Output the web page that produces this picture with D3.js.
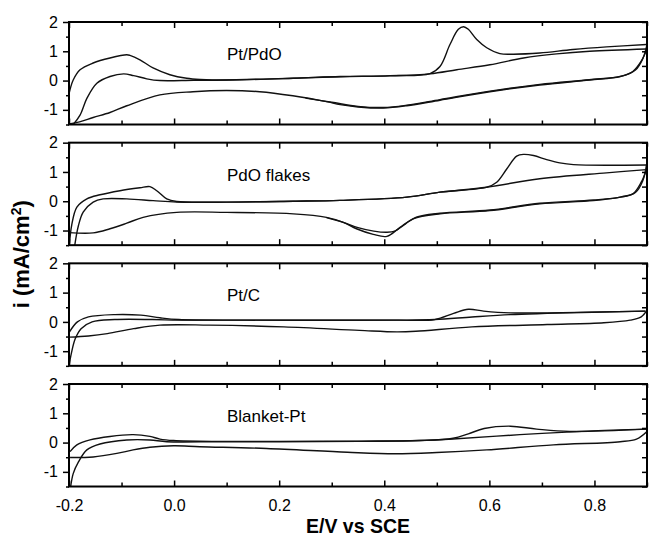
<!DOCTYPE html>
<html>
<head>
<meta charset="utf-8">
<script src="https://cdn.jsdelivr.net/npm/d3@7"></script>
<style>
  body { margin: 0; background: #fff; }
  svg { display: block; font-family: "Liberation Sans", Arial, Helvetica, sans-serif; }
</style>
</head>
<body>
<svg id="chart" width="649" height="536"></svg>
<script>
// E (V vs SCE), i (mA/cm2) pairs
const ptpdoFwd1 = [[-0.2,-0.45],[-0.192,0.02],[-0.179,0.37],[-0.154,0.6],[-0.122,0.77],[-0.09,0.88],[-0.084,0.86],[-0.065,0.71],[-0.04,0.43],[-0.008,0.2],[0.024,0.08],[0.05,0.04],[0.1,0.02],[0.227,0.08],[0.316,0.14],[0.411,0.17],[0.487,0.24],[0.506,0.48],[0.525,1.23],[0.541,1.75],[0.551,1.84],[0.56,1.75],[0.576,1.4],[0.595,1.12],[0.62,0.92],[0.646,0.9],[0.696,0.94],[0.759,1.06],[0.823,1.15],[0.899,1.23]];
const ptpdoFwd2 = [[-0.192,-1.5],[-0.179,-1.18],[-0.166,-0.61],[-0.147,-0.09],[-0.122,0.14],[-0.096,0.23],[-0.077,0.17],[-0.052,0.06],[-0.027,0.0],[0.037,0.01],[0.1,0.02],[0.227,0.08],[0.316,0.13],[0.411,0.16],[0.487,0.23],[0.538,0.37],[0.601,0.54],[0.665,0.77],[0.728,0.91],[0.791,1.0],[0.899,1.08]];
const ptpdoRev1 = [[0.9,1.08],[0.889,0.66],[0.873,0.31],[0.849,0.14],[0.791,0.02],[0.696,-0.15],[0.601,-0.38],[0.506,-0.67],[0.443,-0.86],[0.398,-0.94],[0.35,-0.9],[0.316,-0.82],[0.29,-0.72],[0.226,-0.52],[0.163,-0.38],[0.1,-0.34],[0.036,-0.38],[-0.027,-0.49],[-0.09,-0.86],[-0.122,-1.09],[-0.154,-1.26],[-0.18,-1.41],[-0.2,-1.48]];
const ptpdoRev2 = [[0.9,1.23],[0.892,0.75],[0.878,0.36],[0.852,0.15],[0.79,0.03],[0.696,-0.13],[0.601,-0.36],[0.506,-0.65],[0.443,-0.84],[0.398,-0.92],[0.35,-0.88],[0.3,-0.74],[0.25,-0.6]];

const pdoFwd1 = [[-0.199,-1.45],[-0.195,-0.83],[-0.185,-0.2],[-0.166,0.08],[-0.141,0.22],[-0.103,0.36],[-0.065,0.46],[-0.046,0.5],[-0.033,0.36],[-0.014,0.08],[0.005,-0.01],[0.1,-0.03],[0.227,0.0],[0.316,0.03],[0.443,0.14],[0.506,0.31],[0.595,0.48],[0.614,0.65],[0.633,1.1],[0.652,1.54],[0.665,1.6],[0.684,1.56],[0.709,1.42],[0.734,1.31],[0.76,1.25],[0.899,1.24]];
const pdoFwd2 = [[-0.189,-1.5],[-0.182,-0.83],[-0.173,-0.37],[-0.154,-0.03],[-0.135,0.08],[-0.09,0.08],[-0.04,0.02],[0.005,-0.03],[0.1,-0.03],[0.227,0.0],[0.316,0.03],[0.443,0.14],[0.506,0.31],[0.595,0.48],[0.696,0.77],[0.823,0.97],[0.899,1.08]];
const pdoRev1 = [[0.899,1.08],[0.889,0.65],[0.873,0.25],[0.849,0.14],[0.798,0.02],[0.696,-0.09],[0.601,-0.32],[0.506,-0.43],[0.455,-0.6],[0.43,-0.89],[0.405,-1.2],[0.379,-1.13],[0.347,-0.94],[0.322,-0.72],[0.29,-0.55],[0.227,-0.43],[0.1,-0.38],[0.005,-0.38],[-0.059,-0.55],[-0.09,-0.75],[-0.122,-0.94],[-0.154,-1.08],[-0.2,-1.07]];
const pdoRev2 = [[0.899,1.24],[0.892,0.7],[0.878,0.3],[0.852,0.15],[0.798,0.04],[0.696,-0.07],[0.601,-0.3],[0.506,-0.41],[0.46,-0.55],[0.44,-0.78],[0.42,-1.02],[0.405,-1.06],[0.38,-1.02],[0.35,-0.9],[0.322,-0.72],[0.29,-0.56]];

const ptcFwd1 = [[-0.199,-0.34],[-0.184,0.0],[-0.163,0.17],[-0.113,0.25],[-0.063,0.23],[-0.027,0.14],[0.009,0.08],[0.138,0.06],[0.424,0.06],[0.496,0.08],[0.532,0.29],[0.56,0.43],[0.589,0.37],[0.639,0.31],[0.71,0.31],[0.897,0.37]];
const ptcFwd2 = [[-0.2,-1.5],[-0.195,-1.03],[-0.188,-0.57],[-0.177,-0.23],[-0.156,0.0],[-0.113,0.08],[-0.041,0.08],[0.009,0.06],[0.138,0.06],[0.424,0.06],[0.496,0.08],[0.567,0.17],[0.639,0.25],[0.71,0.29],[0.897,0.37]];
const ptcRev = [[0.9,0.4],[0.889,0.17],[0.868,0.06],[0.818,-0.03],[0.71,-0.09],[0.567,-0.17],[0.46,-0.32],[0.424,-0.34],[0.353,-0.29],[0.209,-0.17],[0.066,-0.11],[-0.027,-0.11],[-0.077,-0.23],[-0.127,-0.4],[-0.163,-0.48],[-0.2,-0.52]];

const blanketFwd1 = [[-0.198,-0.31],[-0.185,-0.08],[-0.16,0.09],[-0.122,0.21],[-0.078,0.27],[-0.046,0.21],[-0.027,0.12],[-0.001,0.07],[0.087,0.04],[0.2,0.04],[0.35,0.05],[0.468,0.07],[0.531,0.15],[0.56,0.3],[0.59,0.48],[0.64,0.56],[0.69,0.46],[0.753,0.38],[0.9,0.46]];
const blanketFwd2 = [[-0.197,-1.53],[-0.192,-1.06],[-0.182,-0.66],[-0.166,-0.25],[-0.141,-0.05],[-0.09,0.09],[-0.046,0.09],[-0.014,0.03],[0.087,0.03],[0.2,0.03],[0.35,0.04],[0.468,0.07],[0.531,0.12],[0.658,0.27],[0.785,0.39],[0.9,0.46]];
const blanketRev = [[0.9,0.38],[0.88,0.12],[0.849,0.03],[0.722,-0.08],[0.595,-0.25],[0.5,-0.34],[0.42,-0.38],[0.33,-0.33],[0.176,-0.2],[0.049,-0.14],[-0.001,-0.11],[-0.046,-0.16],[-0.078,-0.25],[-0.109,-0.37],[-0.154,-0.49],[-0.198,-0.51]];

const panelNames = ["Pt/PdO", "PdO flakes", "Pt/C", "Blanket-Pt"];
const panelSeries = [
    [ptpdoFwd1, ptpdoFwd2, ptpdoRev1, ptpdoRev2],
    [pdoFwd1, pdoFwd2, pdoRev1, pdoRev2],
    [ptcFwd1, ptcFwd2, ptcRev],
    [blanketFwd1, blanketFwd2, blanketRev]
];
const xDomain = [-0.2, 0.9];
const yDomain = [-1.5, 2];
const xMajor = [-0.2, 0.0, 0.2, 0.4, 0.6, 0.8];
const xMinor = [-0.1, 0.1, 0.3, 0.5, 0.7, 0.9];
const yMajor = [-1, 0, 1, 2];
const yMinor = [-1.5, -0.5, 0.5, 1.5];

const svg = d3.select("#chart");
const left = 69, right = 647, top0 = 22, panelH = 102.5, step = 120.67;
const w = right - left;

const x = d3.scaleLinear().domain(xDomain).range([0, w]);
const y = d3.scaleLinear().domain(yDomain).range([panelH, 0]);

const line = d3.line()
    .x(d => x(d[0]))
    .y(d => y(d[1]))
    .curve(d3.curveCatmullRom.alpha(0.5));

svg.append("defs").append("clipPath").attr("id", "clip")
    .append("rect").attr("width", w).attr("height", panelH);

panelNames.forEach((name, k) => {
    const g = svg.append("g")
        .attr("transform", `translate(${left},${top0 + k * step})`);

    // traces
    g.append("g").attr("clip-path", "url(#clip)")
        .selectAll("path")
        .data(panelSeries[k])
        .enter().append("path")
        .attr("d", line)
        .attr("fill", "none")
        .attr("stroke", "#111")
        .attr("stroke-width", 1.4)
        .attr("stroke-linejoin", "round");

    // left axis: outward ticks with labels
    g.append("g")
        .call(d3.axisLeft(y).tickValues(yMajor).tickSize(6).tickPadding(5).tickFormat(d => String(d)));
    g.append("g")
        .call(d3.axisLeft(y).tickValues(yMinor).tickSize(3).tickFormat(""));

    // right axis: inward ticks
    g.append("g").attr("transform", `translate(${w},0)`)
        .call(d3.axisRight(y).tickValues(yMajor.concat(yMinor)).tickSize(-5).tickFormat(""));

    // top axis: inward ticks
    g.append("g")
        .call(d3.axisTop(x).tickValues(xMajor).tickSize(-6).tickFormat(""));
    g.append("g")
        .call(d3.axisTop(x).tickValues(xMinor).tickSize(-4).tickFormat(""));

    // bottom axis: inward ticks, labels on the last panel only
    g.append("g").attr("transform", `translate(0,${panelH})`)
        .call(d3.axisBottom(x).tickValues(xMajor).tickSize(-6).tickPadding(13)
            .tickFormat(k === panelNames.length - 1 ? (d => d.toFixed(1)) : ""));
    g.append("g").attr("transform", `translate(0,${panelH})`)
        .call(d3.axisBottom(x).tickValues(xMinor).tickSize(-4).tickFormat(""));

    g.selectAll(".domain").remove();
    g.selectAll(".tick line").attr("stroke", "#000").attr("stroke-width", 1.5);
    g.selectAll(".tick text").attr("fill", "#000").style("font-size", "16px");

    g.append("rect")
        .attr("width", w).attr("height", panelH)
        .attr("fill", "none").attr("stroke", "#000").attr("stroke-width", 2);

    g.append("text")
        .attr("x", 158).attr("y", 38)
        .style("font-size", "17px")
        .text(name);
});

// axis titles
svg.append("text")
    .attr("x", (left + right) / 2).attr("y", 533)
    .attr("text-anchor", "middle")
    .style("font-size", "21px").style("font-weight", "bold")
    .attr("textLength", 104).attr("lengthAdjust", "spacingAndGlyphs")
    .text("E/V vs SCE");

const yt = svg.append("text")
    .attr("transform", `translate(29,${(top0 + top0 + 3 * step + panelH) / 2}) rotate(-90)`)
    .attr("text-anchor", "middle")
    .style("font-size", "22px").style("font-weight", "bold");
yt.append("tspan").text("i (mA/cm");
yt.append("tspan").attr("dy", -8).style("font-size", "14px").text("2");
yt.append("tspan").attr("dy", 8).text(")");
</script>
</body>
</html>
